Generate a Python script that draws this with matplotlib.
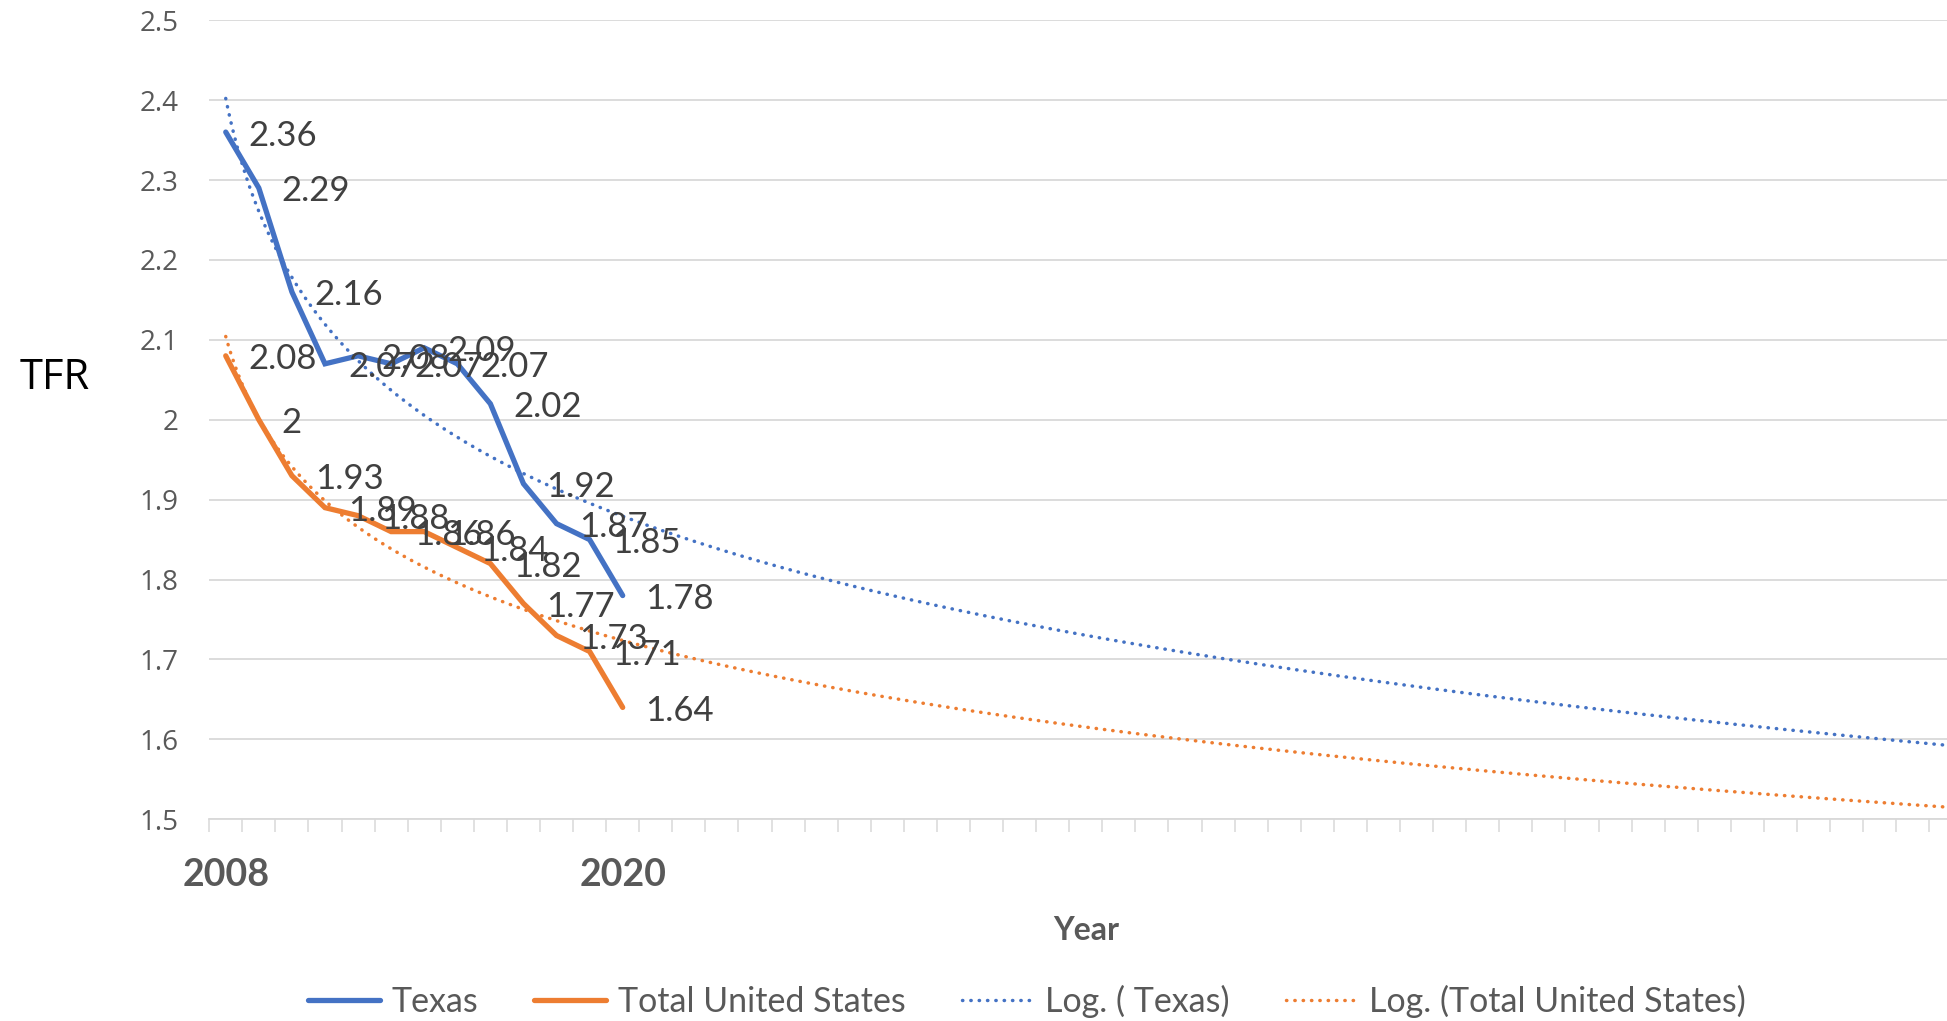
import numpy as np
import matplotlib
matplotlib.use("Agg")
import matplotlib.pyplot as plt
from matplotlib.lines import Line2D

years = [2008, 2009, 2010, 2011, 2012, 2013, 2014, 2015, 2016, 2017, 2018, 2019, 2020]
texas = [2.36, 2.29, 2.16, 2.07, 2.08, 2.07, 2.09, 2.07, 2.02, 1.92, 1.87, 1.85, 1.78]
total_us = [2.08, 2.00, 1.93, 1.89, 1.88, 1.86, 1.86, 1.84, 1.82, 1.77, 1.73, 1.71, 1.64]
year_tick_labels = ["2008", "2020"]
forecast_periods = 41

BLUE = "#4472C4"
ORANGE = "#ED7D31"
GRID = "#D9D9D9"
TXT = "#595959"
LBL = "#404040"

W, H = 1947, 1021
fig = plt.figure(figsize=(W / 100, H / 100), dpi=100)
left_px, right_px, top_px, bot_px = 209.2, 1947, 20.2, 819.3
ax = fig.add_axes([left_px / W, 1 - bot_px / H, (right_px - left_px) / W, (bot_px - top_px) / H])

n = len(years)
xi = np.arange(n)

DOT = (0, (0.1, 2.3))

# Excel-style logarithmic trendlines (y = a*ln(x) + b, x = 1..n), forecast forward
xx = np.linspace(1, n + forecast_periods, 800)
for series, color in [(texas, BLUE), (total_us, ORANGE)]:
    a, b = np.polyfit(np.log(np.arange(1, n + 1)), series, 1)
    ax.plot(xx - 1, a * np.log(xx) + b, color=color, lw=2.5,
            linestyle=DOT, dash_capstyle="round", zorder=3)

ax.plot(xi, texas, color=BLUE, lw=3.8, solid_capstyle="round", solid_joinstyle="miter", zorder=4)
ax.plot(xi, total_us, color=ORANGE, lw=3.8, solid_capstyle="round", solid_joinstyle="miter", zorder=4)

lab_font = dict(family=["Lato", "DejaVu Sans"], fontsize=25, color=LBL)
for series in (texas, total_us):
    for i, v in enumerate(series):
        ax.annotate(f"{v:g}", (i, v), xytext=(16.5, -2.5), textcoords="offset points",
                    ha="left", va="center", zorder=5, **lab_font)

yt = np.round(np.arange(1.5, 2.51, 0.1), 1)
ax.set_yticks(yt)
ax.set_yticklabels([f"{t:g}" for t in yt],
                   family=["Open Sans", "DejaVu Sans"], fontsize=20, color=TXT)
ax.set_ylim(1.5, 2.5)
ax.tick_params(axis="y", length=0, pad=22)
ax.yaxis.grid(True, color=GRID, lw=1.3)
ax.set_axisbelow(True)

ax.set_xticks([0, n - 1])
ax.set_xticklabels(year_tick_labels, family=["Lato", "DejaVu Sans"], fontsize=27,
                   fontweight="bold", color=TXT)
ax.tick_params(axis="x", which="major", length=0, pad=28)
ax.set_xticks(np.arange(-0.5, 60, 1), minor=True)
ax.tick_params(axis="x", which="minor", length=9, width=1.1, color=GRID, direction="out")
ax.set_xlim(-0.5, (right_px - 225.7) / 33.08)

for s in ("top", "right", "left"):
    ax.spines[s].set_visible(False)
ax.spines["bottom"].set_color(GRID)
ax.spines["bottom"].set_linewidth(1.3)

fig.text(1086 / W, 1 - 930 / H, "Year", ha="center", va="center",
         family=["Lato", "DejaVu Sans"], fontsize=23, fontweight="bold", color=TXT)
fig.text(55 / W, 1 - 378 / H, "TFR", ha="center", va="center",
         family=["Open Sans", "DejaVu Sans"], fontsize=30, color="black")

handles = [
    Line2D([], [], color=BLUE, lw=3.8, solid_capstyle="round"),
    Line2D([], [], color=ORANGE, lw=3.8, solid_capstyle="round"),
    Line2D([], [], color=BLUE, lw=2.5, linestyle=DOT, dash_capstyle="round"),
    Line2D([], [], color=ORANGE, lw=2.5, linestyle=DOT, dash_capstyle="round"),
]
labels = ["Texas", "Total United States", "Log. ( Texas)", "Log. (Total United States)"]
leg = fig.legend(handles, labels, loc="center", bbox_to_anchor=(1027 / W, 1 - 1001 / H),
                 ncol=4, frameon=False, handlelength=2.1, handletextpad=0.35,
                 columnspacing=1.65, borderaxespad=0, borderpad=0,
                 prop=dict(family=["Lato", "DejaVu Sans"], size=24.5))
for t in leg.get_texts():
    t.set_color(TXT)

fig.savefig("out.png", dpi=100, facecolor="white")
